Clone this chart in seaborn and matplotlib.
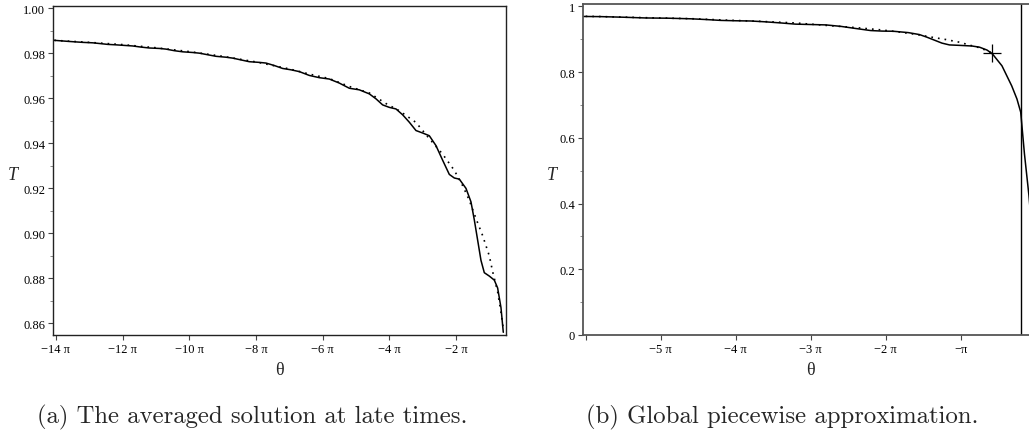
import numpy as np
import pandas as pd
import matplotlib
matplotlib.use("Agg")
import matplotlib.pyplot as plt
import seaborn as sns
from matplotlib.ticker import FixedLocator

# ---------------- data (theta given in units of pi) ----------------
avg_theta = [-14.05, -13.6, -13.2, -12.9, -12.7, -12.45, -12.2, -11.9, -11.7, -11.45,
             -11.2, -10.9, -10.7, -10.45, -10.2, -9.9, -9.7, -9.45, -9.2, -8.9,
             -8.7, -8.45, -8.2, -7.9, -7.7, -7.45, -7.2, -6.95, -6.7, -6.4,
             -6.1, -5.8, -5.5, -5.2, -4.9, -4.6, -4.4, -4.2, -4.0, -3.8,
             -3.6, -3.4, -3.2, -3.0, -2.8, -2.6, -2.4, -2.2, -2.05, -1.9,
             -1.7, -1.55, -1.45, -1.35, -1.25, -1.15, -1.0, -0.85, -0.75, -0.65,
             -0.58]
avg_T = [0.9858, 0.9853, 0.9849, 0.9847, 0.9844, 0.9840, 0.9838, 0.9835, 0.9833, 0.9828,
         0.9824, 0.9822, 0.9819, 0.9812, 0.9807, 0.9804, 0.9801, 0.9794, 0.9787, 0.9783,
         0.9779, 0.9771, 0.9763, 0.9760, 0.9757, 0.9746, 0.9733, 0.9727, 0.9719, 0.9702,
         0.9692, 0.9686, 0.9668, 0.9645, 0.9638, 0.9620, 0.9598, 0.9571, 0.9560, 0.9553,
         0.9527, 0.9494, 0.9457, 0.9446, 0.9434, 0.9390, 0.9325, 0.9262, 0.9246, 0.9241,
         0.9200, 0.9140, 0.9060, 0.8970, 0.8880, 0.8825, 0.8810, 0.8792, 0.8757, 0.8670,
         0.8560]

approx_theta = [-14.05, -13.0, -12.0, -11.0, -10.0, -9.0, -8.0, -7.0, -6.4, -5.8,
                -5.2, -4.6, -4.1, -3.7, -3.2, -2.8, -2.4, -2.05, -1.8, -1.6,
                -1.4, -1.2, -1.0, -0.9, -0.75, -0.65, -0.58]
approx_T = [0.9858, 0.9849, 0.9839, 0.9825, 0.9808, 0.9787, 0.9762, 0.9731, 0.9708, 0.9688,
            0.9653, 0.9624, 0.9577, 0.9545, 0.9493, 0.9421, 0.9352, 0.9280, 0.9212, 0.9147,
            0.9066, 0.8990, 0.8900, 0.8830, 0.8740, 0.8650, 0.8575]

outer_theta = [-0.58, -0.45, -0.32, -0.25, -0.2, -0.15, -0.09, -0.07]
outer_T = [0.856, 0.819, 0.758, 0.718, 0.678, 0.551, 0.424, 0.37]

match_theta = [-0.587]
match_T = [0.857]
boundary_theta = -0.2

left_xticks = [-14, -12, -10, -8, -6, -4, -2]
left_xlabels = ["\u221214 \u03c0", "\u221212 \u03c0", "\u221210 \u03c0", "\u22128 \u03c0",
                "\u22126 \u03c0", "\u22124 \u03c0", "\u22122 \u03c0"]
left_yticks = [0.86, 0.88, 0.90, 0.92, 0.94, 0.96, 0.98, 1.00]
left_ylabels = ["0.86", "0.88", "0.90", "0.92", "0.94", "0.96", "0.98", "1.00"]
left_yminor = [0.87, 0.89, 0.91, 0.93, 0.95, 0.97, 0.99]

right_xticks = [-6, -5, -4, -3, -2, -1]
right_xlabels = ["", "\u22125 \u03c0", "\u22124 \u03c0", "\u22123 \u03c0", "\u22122 \u03c0", "\u2212\u03c0"]
right_yticks = [0, 0.2, 0.4, 0.6, 0.8, 1]
right_ylabels = ["0", "0.2", "0.4", "0.6", "0.8", "1"]
right_yminor = [0.1, 0.3, 0.5, 0.7, 0.9]

caption_a = "(a) The averaged solution at late times."
caption_b = "(b) Global piecewise approximation."

# ---------------- style ----------------
sns.set_theme(style="ticks")
plt.rcParams["font.family"] = ["Liberation Serif", "DejaVu Serif"]

W, H = 1029, 431
fig = plt.figure(figsize=(W / 100, H / 100), dpi=100)

def fx(px):
    return px / W

def fy(py):
    return 1 - py / H

axL = fig.add_axes([fx(53), fy(336), fx(505.7) - fx(53), fy(6.7) - fy(336)])
axR = fig.add_axes([fx(582.7), fy(336), fx(1035.7) - fx(582.7), fy(5) - fy(336)])

df_avg = pd.DataFrame({"theta": avg_theta, "T": avg_T})
df_app = pd.DataFrame({"theta": approx_theta, "T": approx_T})
df_out = pd.DataFrame({"theta": outer_theta, "T": outer_T})
df_match = pd.DataFrame({"theta": match_theta, "T": match_T})

for ax in (axL, axR):
    sns.lineplot(data=df_app, x="theta", y="T", ax=ax, color="black", lw=1.2,
                 linestyle=(0, (1, 3)), sort=False, estimator=None)
    sns.lineplot(data=df_avg, x="theta", y="T", ax=ax, color="black", lw=1.1,
                 sort=False, estimator=None)

sns.lineplot(data=df_out, x="theta", y="T", ax=axR, color="black", lw=1.1,
             sort=False, estimator=None)
sns.scatterplot(data=df_match, x="theta", y="T", ax=axR, marker="+", s=150,
                color="black", linewidth=0.9, zorder=5)
axR.axvline(boundary_theta, color="black", lw=1.0)

# limits
axL.set_xlim(-14.09, -0.508)
axL.set_ylim(0.8548, 1.0012)
axR.set_xlim(-6.04, 0.0)
axR.set_ylim(0.0, 1.007)

# ticks
tick_kw = dict(labelsize=9, colors="#444444", labelcolor="black", direction="out",
               pad=2)
axL.xaxis.set_major_locator(FixedLocator(left_xticks))
axL.set_xticklabels(left_xlabels)
axL.yaxis.set_major_locator(FixedLocator(left_yticks))
axL.set_yticklabels(left_ylabels)
axL.yaxis.set_minor_locator(FixedLocator(left_yminor))

axR.xaxis.set_major_locator(FixedLocator(right_xticks))
axR.set_xticklabels(right_xlabels)
axR.yaxis.set_major_locator(FixedLocator(right_yticks))
axR.set_yticklabels(right_ylabels)
axR.yaxis.set_minor_locator(FixedLocator(right_yminor))

for ax in (axL, axR):
    ax.tick_params(axis="both", which="major", length=3.5, width=0.8, **tick_kw)
    ax.tick_params(axis="both", which="minor", length=2.5, width=0.6, colors="#777777",
                   direction="out")
    ax.set_xlabel("")
    ax.set_ylabel("")

for s in axL.spines.values():
    s.set_visible(True)
    s.set_color("#222222")
    s.set_linewidth(1.0)
for s in axR.spines.values():
    s.set_visible(True)
    s.set_color("#555555")
    s.set_linewidth(1.3)

# axis labels
fig.text(fx(13), fy(175), "T", fontsize=13, style="italic", ha="center", va="center")
fig.text(fx(552), fy(175), "T", fontsize=13, style="italic", ha="center", va="center")
fig.text(fx(279), fy(371), "\u03b8", fontsize=13, ha="center", va="center")
fig.text(fx(810), fy(371), "\u03b8", fontsize=13, ha="center", va="center")

# captions
fig.text(fx(251.7), fy(417), caption_a, fontsize=17.8, family="cmr10",
         ha="center", va="center")
fig.text(fx(781.7), fy(417), caption_b, fontsize=17.8, family="cmr10",
         ha="center", va="center")

fig.savefig("out.png", dpi=100)
